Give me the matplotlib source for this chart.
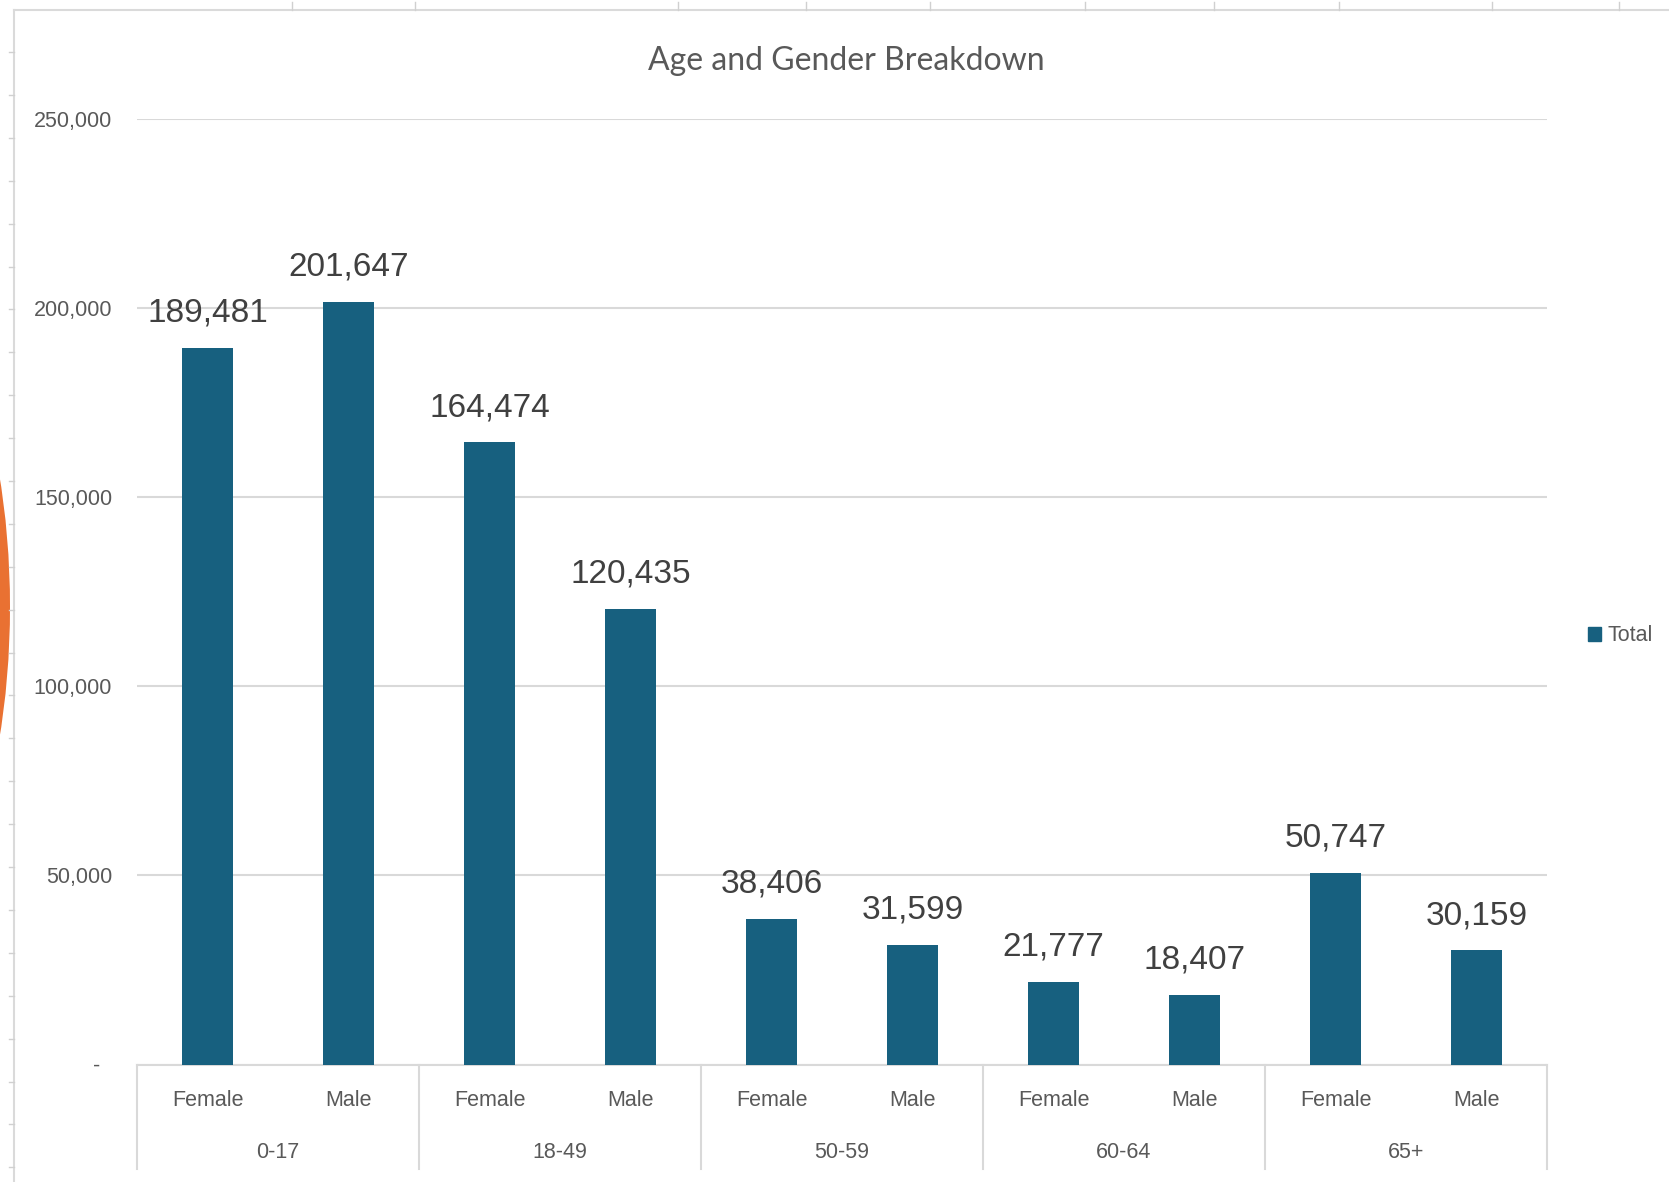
import matplotlib
matplotlib.use("Agg")
import matplotlib.pyplot as plt
from matplotlib.patches import Ellipse
import matplotlib.transforms as mtransforms

# donnees
age_groups = ["0-17", "18-49", "50-59", "60-64", "65+"]
genders = ["Female", "Male"]
totals = [189481, 201647, 164474, 120435, 38406, 31599, 21777, 18407, 50747, 30159]
y_ticks = [0, 50000, 100000, 150000, 200000, 250000]
y_tick_labels = ["-  ", "50,000", "100,000", "150,000", "200,000", "250,000"]

bar_color = "#17607F"
text_gray = "#595959"
grid_gray = "#D9D9D9"
W, H = 1669, 1182

narrow = ["Liberation Sans", "DejaVu Sans"]

fig = plt.figure(figsize=(W / 100, H / 100), dpi=100)

# decor de la capture (bord de feuille + forme orange)
bg = fig.add_axes([0, 0, 1, 1], zorder=0)
bg.set_xlim(0, W)
bg.set_ylim(H, 0)
bg.axis("off")
bg.plot([14, W], [10, 10], color="#DADADA", lw=1.5)
bg.plot([14, 14], [10, H], color="#DADADA", lw=1.5)
for x in [292, 415, 678, 806, 930, 1085, 1214, 1339, 1492, 1619]:
    bg.plot([x, x], [2, 10], color="#D0D0D0", lw=1)
y = 52
while y < H:
    bg.plot([9, 14], [y, y], color="#D0D0D0", lw=1)
    y += 42.9
bg.add_patch(Ellipse((-140, 607), 300, 712, color="#E97132", lw=0))

ax = fig.add_axes([137 / W, 117.5 / H, 1410 / W, 945.5 / H], zorder=1)
ax.patch.set_alpha(0)
x = list(range(len(totals)))
ax.bar(x, totals, width=0.355, color=bar_color, zorder=3)
for xi, v in zip(x, totals):
    ax.annotate(f"{v:,}", (xi, v), xytext=(0, 19), textcoords="offset points",
                ha="center", va="baseline", fontsize=24, color="#404040",
                family=["Liberation Sans", "DejaVu Sans"])

ax.set_xlim(-0.5, len(totals) - 0.5)
ax.set_ylim(0, 250000)
ax.set_yticks(y_ticks)
ax.set_yticklabels(y_tick_labels, family=narrow, fontsize=15.5, color=text_gray)
ax.tick_params(axis="y", length=0, pad=18)
ax.set_xticks([])
ax.grid(axis="y", color=grid_gray, lw=1.5, zorder=0)
for s in ["top", "right", "left"]:
    ax.spines[s].set_visible(False)
ax.spines["bottom"].set_color(grid_gray)
ax.spines["bottom"].set_linewidth(1.5)

# axe des categories a deux niveaux
trans = mtransforms.blended_transform_factory(ax.transData, ax.transAxes)
for i, g in enumerate(age_groups):
    for j, sex in enumerate(genders):
        ax.text(2 * i + j, -0.0385, sex, transform=trans, ha="center", va="center",
                fontsize=15.5, color=text_gray, family=narrow)
    ax.text(2 * i + 0.5, -0.0935, g, transform=trans, ha="center", va="center",
            fontsize=15.5, color=text_gray, family=narrow)
for k in range(len(age_groups) + 1):
    ax.plot([2 * k - 0.5, 2 * k - 0.5], [0, -0.1105], transform=trans,
            color=grid_gray, lw=1.5, clip_on=False)

fig.text(846 / W, 1 - 61 / H, "Age and Gender Breakdown", ha="center", va="center",
         fontsize=23, color=text_gray, family=["Lato", "DejaVu Sans"])

fig.legend([plt.Rectangle((0, 0), 1, 1, color=bar_color)], ["Total"],
           loc="center left", bbox_to_anchor=(1577 / W, 1 - 636 / H),
           frameon=False, handlelength=0.6, handleheight=0.6, handletextpad=0.3,
           borderpad=0, prop={"family": narrow, "size": 15.5}, labelcolor=text_gray)

fig.savefig("out.png", dpi=100)
